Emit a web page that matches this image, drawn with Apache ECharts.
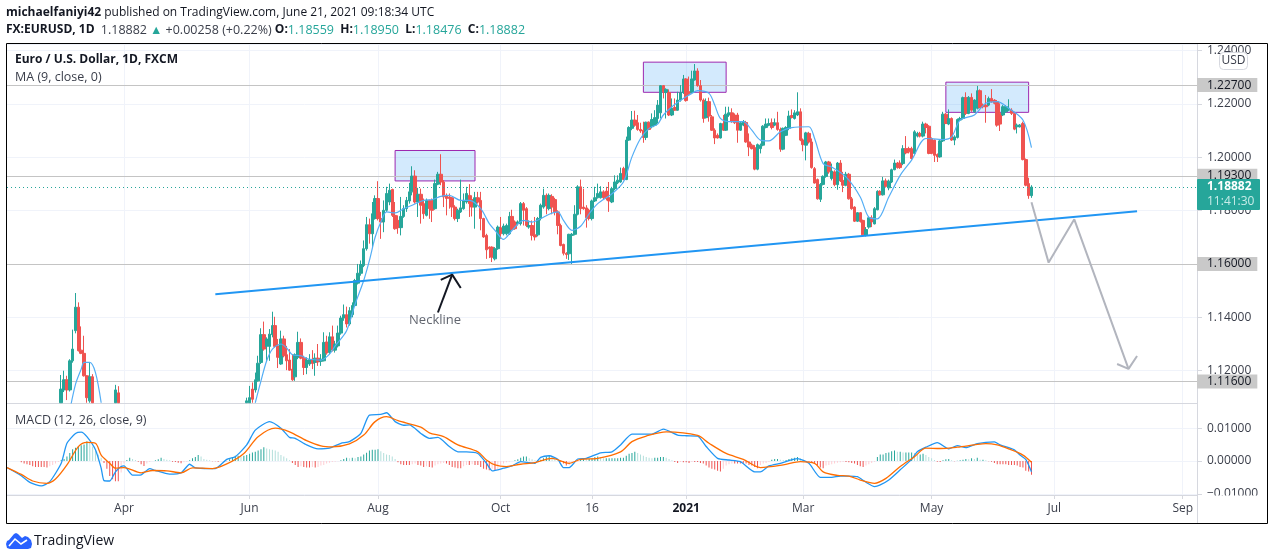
<!DOCTYPE html>
<html>
<head>
<meta charset="utf-8">
<title>EURUSD 1D</title>
<script src="https://cdn.jsdelivr.net/npm/echarts@6/dist/echarts.min.js"></script>
<style>html,body{margin:0;background:#fff}#main{width:1274px;height:560px}</style>
</head>
<body>
<div id="main"></div>
<script>
const FONT = '"Open Sans", sans-serif';
const SLOT_COUNT = 418;
const LAST_SLOT = 359;

const tickSlots = [41, 85, 130, 173, 205, 238, 279, 324, 367, 412];
const tickLabels = ['Apr', 'Jun', 'Aug', 'Oct', '16', '2021', 'Mar', 'May', 'Jul', 'Sep'];

// [open, close, low, high]; the bars in between sit below the visible price range,
// and anything reaching the pane floor is held at it
const marchCandles = [
  [1.1080,1.1131,1.1080,1.1184],[1.1128,1.1166,1.1120,1.1200],[1.1166,1.1128,1.1090,1.1181],[1.1128,1.1237,1.1122,1.1243],
  [1.1237,1.1281,1.1230,1.1354],[1.1350,1.1438,1.1340,1.1491],[1.1438,1.1275,1.1272,1.1456],[1.1277,1.1265,1.1262,1.1366],
  [1.1265,1.1181,1.1178,1.1331],[1.1181,1.1099,1.1080,1.1183],[1.1087,1.1177,1.1080,1.1231],[1.1177,1.1080,1.1080,1.1187]
];
const aprilCandles = [[1.1080,1.1128,1.1080,1.1147],[1.1117,1.1080,1.1080,1.1142]];
const mainCandles = [
  [1.1080,1.1087,1.1080,1.1099],[1.1080,1.1099,1.1080,1.1143],[1.1131,1.1093,1.1080,1.1156],[1.1128,1.1166,1.1118,1.1193],
  [1.1162,1.1228,1.1159,1.1256],[1.1231,1.1335,1.1225,1.1359],[1.1335,1.1281,1.1275,1.1384],[1.1291,1.1319,1.1237,1.1325],
  [1.1291,1.1337,1.1237,1.1356],[1.1335,1.1369,1.1325,1.1421],[1.1369,1.1291,1.1287,1.1402],[1.1293,1.1250,1.1210,1.1319],
  [1.1225,1.1319,1.1222,1.1350],[1.1319,1.1256,1.1250,1.1331],[1.1260,1.1237,1.1202,1.1293],[1.1240,1.1202,1.1200,1.1281],
  [1.1206,1.1166,1.1162,1.1262],[1.1177,1.1260,1.1162,1.1265],[1.1250,1.1306,1.1243,1.1346],[1.1306,1.1247,1.1243,1.1321],
  [1.1247,1.1212,1.1184,1.1256],[1.1212,1.1240,1.1187,1.1250],[1.1225,1.1242,1.1218,1.1262],[1.1243,1.1227,1.1206,1.1277],
  [1.1231,1.1247,1.1181,1.1265],[1.1247,1.1233,1.1218,1.1300],[1.1235,1.1243,1.1218,1.1262],[1.1237,1.1306,1.1235,1.1344],
  [1.1308,1.1266,1.1260,1.1331],[1.1268,1.1327,1.1262,1.1344],[1.1327,1.1277,1.1272,1.1369],[1.1277,1.1300,1.1268,1.1312],
  [1.1293,1.1341,1.1287,1.1369],[1.1341,1.1397,1.1335,1.1406],[1.1397,1.1410,1.1387,1.1448],[1.1410,1.1375,1.1362,1.1440],
  [1.1375,1.1425,1.1369,1.1438],[1.1410,1.1444,1.1400,1.1456],[1.1444,1.1538,1.1440,1.1544],[1.1528,1.1565,1.1523,1.1600],
  [1.1565,1.1598,1.1556,1.1613],[1.1594,1.1657,1.1588,1.1688],[1.1657,1.1747,1.1650,1.1776],[1.1747,1.1713,1.1676,1.1770],
  [1.1713,1.1788,1.1663,1.1832],[1.1770,1.1845,1.1766,1.1857],[1.1845,1.1770,1.1763,1.1910],[1.1770,1.1757,1.1694,1.1795],
  [1.1757,1.1801,1.1719,1.1838],[1.1801,1.1864,1.1795,1.1889],[1.1832,1.1876,1.1820,1.1901],[1.1879,1.1782,1.1776,1.1882],
  [1.1782,1.1732,1.1728,1.1832],[1.1763,1.1736,1.1713,1.1782],[1.1736,1.1778,1.1707,1.1851],[1.1778,1.1807,1.1773,1.1820],
  [1.1807,1.1838,1.1795,1.1851],[1.1836,1.1870,1.1826,1.1904],[1.1870,1.1929,1.1857,1.1966],[1.1929,1.1832,1.1826,1.1951],
  [1.1832,1.1861,1.1776,1.1885],[1.1861,1.1820,1.1751,1.1882],[1.1826,1.1788,1.1769,1.1845],[1.1782,1.1838,1.1778,1.1845],
  [1.1838,1.1807,1.1769,1.1841],[1.1838,1.1801,1.1757,1.1845],[1.1807,1.1901,1.1803,1.1916],[1.1899,1.1936,1.1895,1.1945],
  [1.1936,1.1907,1.1895,1.2011],[1.1907,1.1851,1.1813,1.1914],[1.1857,1.1845,1.1782,1.1864],[1.1851,1.1845,1.1807,1.1864],
  [1.1848,1.1813,1.1776,1.1851],[1.1813,1.1770,1.1763,1.1820],[1.1770,1.1801,1.1757,1.1807],[1.1795,1.1810,1.1791,1.1916],
  [1.1807,1.1838,1.1803,1.1864],[1.1832,1.1864,1.1826,1.1889],[1.1857,1.1826,1.1776,1.1899],[1.1841,1.1813,1.1778,1.1857],
  [1.1813,1.1848,1.1732,1.1870],[1.1848,1.1832,1.1826,1.1870],[1.1838,1.1770,1.1726,1.1870],[1.1770,1.1701,1.1698,1.1773],
  [1.1707,1.1653,1.1619,1.1713],[1.1663,1.1657,1.1622,1.1666],[1.1663,1.1625,1.1607,1.1666],[1.1619,1.1657,1.1613,1.1663],
  [1.1657,1.1738,1.1653,1.1744],[1.1736,1.1713,1.1694,1.1776],[1.1713,1.1742,1.1707,1.1751],[1.1713,1.1744,1.1707,1.1751],
  [1.1713,1.1778,1.1709,1.1795],[1.1778,1.1729,1.1726,1.1803],[1.1757,1.1732,1.1728,1.1763],[1.1751,1.1757,1.1744,1.1763],
  [1.1751,1.1826,1.1744,1.1832],[1.1826,1.1801,1.1744,1.1832],[1.1807,1.1744,1.1738,1.1813],[1.1738,1.1744,1.1732,1.1763],
  [1.1744,1.1707,1.1688,1.1763],[1.1709,1.1701,1.1688,1.1776],[1.1709,1.1770,1.1703,1.1776],[1.1770,1.1820,1.1763,1.1826],
  [1.1813,1.1857,1.1807,1.1882],[1.1857,1.1817,1.1786,1.1864],[1.1807,1.1857,1.1801,1.1864],[1.1853,1.1813,1.1786,1.1861],
  [1.1841,1.1795,1.1782,1.1848],[1.1795,1.1744,1.1711,1.1801],[1.1744,1.1669,1.1666,1.1751],[1.1673,1.1640,1.1632,1.1676],
  [1.1640,1.1635,1.1619,1.1644],[1.1638,1.1711,1.1615,1.1713],[1.1707,1.1711,1.1600,1.1716],[1.1711,1.1786,1.1707,1.1820],
  [1.1786,1.1889,1.1782,1.1895],[1.1889,1.1807,1.1786,1.1916],[1.1813,1.1807,1.1803,1.1882],[1.1810,1.1773,1.1736,1.1820],
  [1.1801,1.1770,1.1763,1.1807],[1.1770,1.1836,1.1763,1.1841],[1.1836,1.1848,1.1832,1.1889],[1.1848,1.1864,1.1845,1.1901],
  [1.1848,1.1870,1.1845,1.1891],[1.1870,1.1848,1.1841,1.1876],[1.1873,1.1845,1.1838,1.1889],[1.1848,1.1836,1.1795,1.1907],
  [1.1832,1.1882,1.1828,1.1889],[1.1882,1.1907,1.1876,1.1932],[1.1904,1.1914,1.1899,1.1932],[1.1907,1.1939,1.1904,1.1961],
  [1.1958,1.1916,1.1914,1.1964],[1.1916,1.2064,1.1914,1.2077],
  [1.2064,1.2111,1.2061,1.2116],[1.2108,1.2139,1.2101,1.2173],[1.2139,1.2120,1.2114,1.2174],[1.2129,1.2104,1.2099,1.2158],
  [1.2104,1.2098,1.2091,1.2129],[1.2101,1.2074,1.2054,1.2133],[1.2074,1.2131,1.2064,1.2133],[1.2131,1.2104,1.2101,1.2134],
  [1.2114,1.2141,1.2108,1.2164],[1.2120,1.2148,1.2116,1.2176],[1.2145,1.2195,1.2126,1.2214],[1.2166,1.2268,1.2145,1.2270],
  [1.2268,1.2245,1.2220,1.2270],[1.2242,1.2254,1.2145,1.2258],[1.2242,1.2158,1.2154,1.2254],[1.2158,1.2183,1.2154,1.2220],
  [1.2186,1.2176,1.2174,1.2220],[1.2176,1.2214,1.2174,1.2245],[1.2214,1.2242,1.2208,1.2270],[1.2242,1.2293,1.2237,1.2308],
  [1.2293,1.2212,1.2208,1.2296],[1.2245,1.2239,1.2233,1.2302],[1.2242,1.2293,1.2239,1.2324],[1.2289,1.2323,1.2287,1.2349],
  [1.2323,1.2268,1.2264,1.2333],[1.2268,1.2214,1.2208,1.2289],[1.2214,1.2145,1.2129,1.2220],[1.2148,1.2208,1.2145,1.2220],
  [1.2208,1.2154,1.2133,1.2223],[1.2151,1.2101,1.2098,1.2158],[1.2101,1.2072,1.2049,1.2108],[1.2082,1.2072,1.2070,1.2089],
  [1.2072,1.2126,1.2070,1.2129],[1.2126,1.2101,1.2098,1.2158],[1.2101,1.2161,1.2098,1.2189],[1.2158,1.2166,1.2151,1.2189],
  [1.2166,1.2133,1.2129,1.2183],[1.2158,1.2129,1.2124,1.2164],[1.2158,1.2101,1.2054,1.2166],[1.2101,1.2129,1.2098,1.2133],
  [1.2120,1.2133,1.2116,1.2139],[1.2130,1.2057,1.2054,1.2136],[1.2057,1.2038,1.2004,1.2089],[1.2045,1.2032,1.2029,1.2051],
  [1.2036,1.1955,1.1951,1.2045],[1.1955,1.2047,1.1951,1.2051],[1.2032,1.2045,1.2014,1.2051],[1.2045,1.2116,1.2041,1.2120],
  [1.2111,1.2124,1.2108,1.2145],[1.2120,1.2126,1.2116,1.2145],[1.2129,1.2111,1.2104,1.2145],[1.2120,1.2129,1.2116,1.2145],
  [1.2129,1.2104,1.2099,1.2170],[1.2104,1.2030,1.2020,1.2111],[1.2030,1.2108,1.2026,1.2111],[1.2082,1.2111,1.2079,1.2116],
  [1.2108,1.2154,1.2101,1.2174],[1.2156,1.2149,1.2145,1.2179],[1.2145,1.2166,1.2141,1.2176],[1.2158,1.2170,1.2154,1.2243],
  [1.2170,1.2064,1.2060,1.2183],[1.2064,1.2047,1.2022,1.2070],[1.2045,1.2091,1.1988,1.2095],[1.2089,1.2057,1.2051,1.2095],
  [1.2057,1.1961,1.1957,1.2070],[1.1957,1.1903,1.1901,1.1963],[1.1916,1.1844,1.1841,1.1920],[1.1842,1.1898,1.1832,1.1903],
  [1.1898,1.1928,1.1894,1.1932],[1.1928,1.1982,1.1923,1.1986],[1.1982,1.1945,1.1938,1.1986],[1.1920,1.1948,1.1913,1.1976],
  [1.1945,1.1897,1.1891,1.1951],[1.1897,1.1978,1.1878,1.1982],[1.1978,1.1911,1.1907,1.1989],[1.1913,1.1895,1.1869,1.1945],
  [1.1895,1.1936,1.1891,1.1945],[1.1936,1.1844,1.1841,1.1941],[1.1844,1.1807,1.1803,1.1851],[1.1813,1.1760,1.1757,1.1816],
  [1.1760,1.1792,1.1757,1.1794],[1.1792,1.1759,1.1755,1.1794],[1.1763,1.1709,1.1707,1.1766],[1.1707,1.1729,1.1703,1.1738],
  [1.1738,1.1773,1.1732,1.1778],[1.1773,1.1757,1.1738,1.1782],[1.1750,1.1807,1.1748,1.1813],[1.1803,1.1872,1.1801,1.1876],
  [1.1872,1.1859,1.1856,1.1876],[1.1859,1.1911,1.1856,1.1926],[1.1911,1.1891,1.1886,1.1920],[1.1885,1.1910,1.1876,1.1916],
  [1.1907,1.1953,1.1903,1.1957],[1.1953,1.1978,1.1951,1.1991],[1.1978,1.1961,1.1957,1.1982],
  [1.1978,1.1961,1.1956,1.1988],[1.1976,1.2032,1.1970,1.2045],[1.2032,1.2016,1.2011,1.2079],[1.2032,1.2020,1.2014,1.2039],
  [1.2032,1.1995,1.1991,1.2039],[1.2014,1.2095,1.2007,1.2101],[1.2079,1.2089,1.2074,1.2095],[1.2089,1.2079,1.2074,1.2095],
  [1.2079,1.2124,1.2074,1.2133],[1.2124,1.2111,1.2089,1.2129],[1.2116,1.2014,1.2011,1.2120],[1.2070,1.2014,1.2011,1.2074],
  [1.2064,1.2007,1.1982,1.2066],[1.2010,1.2001,1.1982,1.2014],[1.2001,1.2061,1.1998,1.2066],[1.2061,1.2161,1.2057,1.2170],
  [1.2161,1.2126,1.2124,1.2166],[1.2124,1.2145,1.2120,1.2179],[1.2145,1.2064,1.2061,1.2149],[1.2064,1.2076,1.2045,1.2082],
  [1.2074,1.2141,1.2070,1.2145],[1.2139,1.2145,1.2136,1.2151],[1.2145,1.2223,1.2141,1.2227],[1.2223,1.2164,1.2158,1.2243],
  [1.2164,1.2224,1.2161,1.2229],[1.2224,1.2176,1.2170,1.2239],[1.2170,1.2214,1.2166,1.2217],[1.2183,1.2249,1.2179,1.2267],
  [1.2249,1.2186,1.2183,1.2254],[1.2195,1.2189,1.2183,1.2201],[1.2195,1.2189,1.2129,1.2233],[1.2195,1.2220,1.2191,1.2227],
  [1.2220,1.2208,1.2204,1.2255],[1.2214,1.2202,1.2198,1.2217],[1.2208,1.2120,1.2114,1.2214],[1.2164,1.2124,1.2098,1.2202],
  [1.2158,1.2189,1.2154,1.2195],[1.2170,1.2189,1.2166,1.2195],[1.2176,1.2183,1.2173,1.2217],[1.2176,1.2164,1.2158,1.2183],
  [1.2164,1.2105,1.2101,1.2170],[1.2114,1.2120,1.2089,1.2126],[1.2114,1.2120,1.2111,1.2124],[1.2126,1.1991,1.1988,1.2133],
  [1.1991,1.1895,1.1891,1.1995],[1.1901,1.1856,1.1844,1.1923],[1.18559,1.18882,1.18476,1.18950]
];

const maSlots = [22,24,26,27,29,31,33,34,
  86,87,89,91,93,96,98,100,103,106,110,113,115,119,122,125,127,129,131,133,136,139,142,146,149,152,155,159,162,166,169,171,174,177,181,184,187,190,193,195,198,201,204,207,212,216,219,222,225,228,230,233,237,240,242,246,248,250,253,258,261,264,267,271,275,281,283,286,289,294,299,302,305,309,313,317,322,328,331,334,339,343,347,351,356,359];
const maValues = [1.1050,1.1149,1.1206,1.1231,1.1231,1.1193,1.1080,null,
  null,1.1080,1.1162,1.1237,1.1281,1.1300,1.1285,1.1260,1.1256,1.1243,1.1240,1.1262,1.1293,1.1350,1.1450,1.1538,1.1613,1.1700,1.1757,1.1795,1.1791,1.1807,1.1820,1.1838,1.1841,1.1853,1.1857,1.1838,1.1838,1.1807,1.1751,1.1726,1.1692,1.1726,1.1763,1.1757,1.1770,1.1786,1.1795,1.1763,1.1726,1.1741,1.1788,1.1826,1.1863,1.1907,1.2001,1.2070,1.2108,1.2124,1.2158,1.2189,1.2220,1.2239,1.2249,1.2239,1.2195,1.2145,1.2133,1.2133,1.2101,1.2064,1.2061,1.2095,1.2111,1.2114,1.2070,1.1976,1.1963,1.1926,1.1851,1.1775,1.1769,1.1851,1.1932,1.1989,1.2070,1.2066,1.2076,1.2139,1.2158,1.2202,1.2208,1.2183,1.2139,1.2036];

const neckSlots = [73, 396];
const neckValues = [1.1486, 1.1797];
const pathSlots = [359, 365, 374, 393];
const pathValues = [1.1831, 1.1605, 1.1767, 1.1207];
const pathHeadSlots = [389, 393, 396];
const pathHeadValues = [1.1225, 1.1207, 1.1255];
const pointerSlots = [151, 156];
const pointerValues = [1.1418, 1.1560];
const pointerHeadSlots = [152, 156, 159];
const pointerHeadValues = [1.1540, 1.1560, 1.1510];

const levelValues = [1.227, 1.193, 1.16, 1.116];
const lastPrice = 1.18882;
const boxSlots = [[136, 164], [223, 252], [329, 358]];
const boxValues = [[1.2025, 1.1911], [1.2356, 1.2243], [1.2281, 1.2168]];

// MACD pane, in 0.0001 units
const histPips = [-4,-8,-10,-12,-16,-18,-18,-18,-18,-20,-16,-12,-8,-3,3,6,14,24,36,40,44,48,50,60,55,44,34,20,10,-6,-24,-46,-56,-62,-62,-35,-8,3,10,6,3,-2,-10,-15,-8,-3,0,2,5,10,6,4,2,-2,-3,-5,-7,-4,-2,2,8,12,18,14,6,4,2,-1,-1,-2,-1,-1,-1,5,12,16,16,14,16,18,22,26,28,32,36,42,38,36,34,32,28,18,14,8,2,-6,-12,-18,-16,-18,-20,-20,-18,-20,-18,-14,-12,-8,-5,-3,-2,-1,2,6,10,8,10,8,12,14,20,25,32,34,34,36,30,24,20,18,14,6,-4,-10,-12,-12,-12,-10,-8,-12,-14,-18,
  -16,-18,-20,-14,-10,-8,-6,-8,-12,-18,-20,-22,-22,-16,-12,-12,-10,-12,-12,-18,-24,-26,-28,-24,-28,-26,-12,-8,-4,-2,0,2,5,10,14,14,8,5,2,2,4,8,14,16,14,10,4,-2,-8,-14,-12,-8,-4,-2,4,8,6,6,8,12,14,12,8,8,8,8,8,8,10,10,16,22,24,28,24,20,16,12,10,8,10,10,12,12,10,6,2,-3,-6,-3,-4,-4,-6,-3,-3,-3,-6,-8,-14,-20,-24,-26,-30,-32,-24,-14,-10,-8,-8,-8,-8,-8,-8,-12,-14,-18,-22,-12,-8,-6,-3,4,6,6,4,3,3,6,8,10,12,8,4,0,-2,-4,-6,-14,-20,-22,-14,-12,-10,-8,-5,-4,
  -3,-3,-4,-6,-8,-12,-16,-18,-14,-10,-6,-2,12,20,20,24,26,30,32,28,28,26,26,26,26,24,20,20,22,18,12,8,3,-2,-3,2,5,6,2,-1,1,2,4,6,5,8,6,10,4,4,2,-1,-2,-6,-10,-10,-10,-10,-12,-12,-12,-14,-18,-20,-30,-32,-42];
const macdSlots = [0,5,8,12,15,19,21,24,26,28,31,33,34,36,38,40,41,44,47,50,52,57,61,64,66,71,73,77,80,84,87,92,96,99,101,105,109,113,117,120,124,127,131,133,136,139,141,145,148,151,155,158,161,165,168,170,174,177,180,183,185,187,190,193,195,197,200,203,208,212,215,219,224,226,230,235,238,242,245,249,253,257,262,264,267,271,277,281,285,289,292,295,298,301,304,306,309,313,317,319,322,326,330,333,336,340,346,348,353,355,357,359];
const macdPips = [-20,-45,-65,-76,-63,-7,54,84,88,74,34,-22,-60,-61,-33,-17,-15,-43,-42,-23,-29,-40,-36,-10,-21,-23,-23,5,13,49,94,120,100,72,69,49,37,39,54,59,84,140,142,147,120,109,110,84,69,72,44,28,28,23,-7,-30,-22,-15,-2,-5,-7,11,16,5,-20,-20,6,8,25,28,49,82,82,82,97,79,77,76,44,8,3,-2,-33,-33,-15,-7,7,-7,-50,-50,-46,-46,-48,-65,-78,-73,-58,-27,5,28,42,56,37,47,41,53,58,49,34,18,5,-33,-51];
const signalSlots = [0,5,9,14,17,21,25,28,31,33,36,38,41,47,51,56,61,65,72,77,83,88,94,99,105,110,114,120,125,129,133,137,145,148,153,158,165,168,171,175,180,185,191,197,201,207,215,219,224,231,242,246,252,258,264,272,278,283,286,291,295,299,304,308,313,318,322,327,333,339,343,347,351,356,359];
const signalPips = [-20,-41,-61,-68,-55,-12,44,57,54,18,-7,-22,-20,-36,-29,-30,-36,-21,-23,-9,23,74,100,89,62,46,43,52,79,120,135,123,103,86,74,49,28,3,-12,-17,-10,-5,8,-7,5,8,28,59,76,89,78,54,23,5,-20,-12,-2,-7,-33,-44,-46,-58,-68,-53,-17,13,39,38,42,49,53,49,37,18,-4];

const categories = Array.from({ length: SLOT_COUNT }, () => '');
tickSlots.forEach((s, i) => { categories[s] = tickLabels[i]; });

const candleData = Array.from({ length: SLOT_COUNT }, () => ['-', '-', '-', '-']);
function placeCandles(rows, firstSlot) {
    rows.forEach((r, i) => { candleData[firstSlot + i] = r; });
}
placeCandles(marchCandles, 19);
placeCandles(aprilCandles, 38);
placeCandles(mainCandles, LAST_SLOT - mainCandles.length + 1);

const pairs = (xs, ys) => xs.map((x, i) => [x, ys[i] == null ? '-' : ys[i]]);
const pips = (xs) => xs.map(v => v / 10000);

// histogram shade follows whether the bar grew or shrank against the previous one
const histStart = LAST_SLOT - histPips.length + 1;
const histData = histPips.map((v, i) => {
    const prev = i ? histPips[i - 1] : 0;
    const color = v >= 0 ? (v >= prev ? '#26a69a' : '#b2dfdb') : (v <= prev ? '#ef5350' : '#ffcdd2');
    return { value: [histStart + i, v / 10000], itemStyle: { color } };
});

const GRID = '#f0f3fa';
const AXIS = '#d6d8df';
const TXT = '#3a3e4a';
const keepTick = (i, v) => v !== '';

function plainLine(name, xs, ys, color, width, extra) {
    return Object.assign({
        name, type: 'line', data: pairs(xs, ys), showSymbol: false, symbol: 'none', silent: true,
        lineStyle: { color, width }, animation: false, z: 4
    }, extra || {});
}

const option = {
    animation: false,
    backgroundColor: '#fff',
    textStyle: { fontFamily: FONT },
    grid: [
        { left: 7, top: 44, width: 1190, height: 359 },
        { left: 7, top: 403, width: 1190, height: 92 }
    ],
    xAxis: [0, 1].map(g => ({
        type: 'category', gridIndex: g, data: categories, boundaryGap: false,
        axisLine: { onZero: false, lineStyle: { color: AXIS, width: 1 } },
        axisTick: { show: g === 1, interval: keepTick, length: 4, lineStyle: { color: AXIS } },
        axisLabel: {
            show: g === 1, interval: keepTick, margin: 8, color: TXT, fontSize: 12, fontFamily: FONT, hideOverlap: false,
            formatter: v => v === '2021' ? '{y|2021}' : v,
            rich: { y: { fontWeight: 'bold', color: '#131722', fontSize: 12, fontFamily: FONT } }
        },
        splitLine: { show: true, interval: keepTick, lineStyle: { color: GRID, width: 1 } }
    })),
    yAxis: [
        {
            type: 'value', gridIndex: 0, position: 'right', min: 1.1079, max: 1.2424, splitNumber: 7, scale: true,
            axisLine: { show: true, lineStyle: { color: AXIS } },
            axisTick: { show: true, length: 5, lineStyle: { color: AXIS } },
            axisLabel: { color: TXT, fontSize: 12, fontFamily: FONT, margin: 10, padding: [2, 0, 0, 0], showMinLabel: false, showMaxLabel: false, formatter: v => v.toFixed(5) },
            splitLine: { lineStyle: { color: GRID, width: 1 } }
        },
        {
            type: 'value', gridIndex: 1, position: 'right', min: -0.01037, max: 0.01768, splitNumber: 3, scale: true,
            axisLine: { show: true, lineStyle: { color: AXIS } },
            axisTick: { show: true, length: 5, lineStyle: { color: AXIS } },
            axisLabel: { color: TXT, fontSize: 12, fontFamily: FONT, margin: 10, padding: [2, 0, 0, 0], showMinLabel: false, showMaxLabel: false, formatter: v => v.toFixed(5).replace('-', '\u2212') },
            splitLine: { lineStyle: { color: GRID, width: 1 } }
        }
    ],
    series: [
        {
            name: 'levels', type: 'line', data: [], silent: true, z: 1,
            markLine: {
                silent: true, symbol: 'none', animation: false, z: 1, precision: 5,
                lineStyle: { color: '#c4c4c4', width: 1.2, type: 'solid' },
                label: {
                    position: 'end', distance: 0, color: '#131722', fontSize: 12, fontFamily: FONT,
                    backgroundColor: '#c9c9c9', padding: [1, 6, 1, 10], formatter: p => p.value.toFixed(5)
                },
                data: levelValues.map(v => ({ yAxis: v }))
            },
            markArea: {
                silent: true,
                itemStyle: { color: 'rgba(33,150,243,0.2)', borderColor: '#9c27b0', borderWidth: 1 },
                data: boxSlots.map((s, i) => [
                    { coord: [s[0], boxValues[i][0]] },
                    { coord: [s[1], boxValues[i][1]] }
                ])
            }
        },
        {
            name: 'last', type: 'line', data: [], silent: true, z: 2,
            markLine: {
                silent: true, symbol: 'none', animation: false, precision: 5,
                lineStyle: { color: '#26a69a', width: 1, type: [1, 3] },
                label: { show: false },
                data: [{ yAxis: lastPrice }]
            }
        },
        {
            name: 'EURUSD', type: 'candlestick', data: candleData, barWidth: 3, z: 3, silent: true,
            itemStyle: { color: '#26a69a', color0: '#ef5350', borderColor: '#26a69a', borderColor0: '#ef5350', borderWidth: 1 }
        },
        plainLine('MA', maSlots, maValues, '#54aef5', 1.2, { smooth: 0.3 }),
        plainLine('Neckline', neckSlots, neckValues, '#2196f3', 2),
        plainLine('Path', pathSlots, pathValues, '#b2b5be', 2),
        plainLine('Path head', pathHeadSlots, pathHeadValues, '#b2b5be', 2),
        plainLine('Pointer', pointerSlots, pointerValues, '#131722', 2),
        plainLine('Pointer head', pointerHeadSlots, pointerHeadValues, '#131722', 2),
        {
            name: 'Neckline label', type: 'scatter', data: [[150, 1.1387]], symbolSize: 0, silent: true, z: 5,
            label: { show: true, position: 'inside', formatter: 'Neckline', color: '#3a3e4a', fontSize: 13, fontFamily: FONT }
        },
        { name: 'Histogram', type: 'bar', xAxisIndex: 1, yAxisIndex: 1, data: histData, barWidth: 1, silent: true, z: 2 },
        plainLine('MACD', macdSlots, pips(macdPips), '#2196f3', 1.3, { xAxisIndex: 1, yAxisIndex: 1, smooth: 0.2 }),
        plainLine('Signal', signalSlots, pips(signalPips), '#ff6d00', 1.3, { xAxisIndex: 1, yAxisIndex: 1, smooth: 0.3 })
    ],
    graphic: [
        { type: 'rect', z: 95, silent: true, shape: { x: 1198, y: 495.5, width: 68, height: 27 }, style: { fill: '#fff' } },
        { type: 'line', z: 96, silent: true, shape: { x1: 1197.5, y1: 495, x2: 1197.5, y2: 523 }, style: { stroke: AXIS, lineWidth: 1 } },
        { type: 'rect', z: 97, silent: true, shape: { x: 6.5, y: 43.5, width: 1261, height: 480 }, style: { fill: 'none', stroke: '#000', lineWidth: 1 } },
        { type: 'rect', z: 98, silent: true, shape: { x: 1197, y: 179, width: 63, height: 31, r: 1 }, style: { fill: '#26a69a' } },
        { type: 'text', z: 99, silent: true, style: { x: 1207, y: 187, text: '1.18882', fill: '#fff', font: 'bold 12px ' + FONT, textVerticalAlign: 'middle' } },
        { type: 'text', z: 99, silent: true, style: { x: 1207, y: 202, text: '11:41:30', fill: '#c8ece8', font: '12px ' + FONT, textVerticalAlign: 'middle' } },
        { type: 'rect', z: 98, silent: true, shape: { x: 1219.5, y: 52.5, width: 28, height: 17, r: 4 }, style: { fill: '#fff', stroke: '#d6d8df', lineWidth: 1 } },
        { type: 'text', z: 99, silent: true, style: { x: 1233.5, y: 61, text: 'USD', fill: '#3a3e4a', font: '12px ' + FONT, textAlign: 'center', textVerticalAlign: 'middle' } },
        {
            type: 'text', z: 99, silent: true,
            style: {
                x: 6, y: 13, textVerticalAlign: 'middle', fill: '#131722', font: '12px ' + FONT,
                rich: { b: { fontWeight: 'bold', fontSize: 12, fontFamily: FONT, fill: '#131722' }, n: { fontSize: 12, fontFamily: FONT, fill: '#131722' } },
                text: '{b|michaelfaniyi42} {n|published on TradingView.com, June 21, 2021 09:18:34 UTC}'
            }
        },
        {
            type: 'text', z: 99, silent: true,
            style: {
                x: 6, y: 30, textVerticalAlign: 'middle', fill: '#131722', font: '12px ' + FONT,
                rich: {
                    b: { fontWeight: 'bold', fontSize: 12, fontFamily: FONT, fill: '#131722' },
                    n: { fontSize: 12.5, fontFamily: FONT, fill: '#3a3e4a' },
                    t: { fontSize: 12.5, fontFamily: FONT, fill: '#26a69a' }
                },
                text: '{b|FX:EURUSD, 1D}  {n|1.18882} {t|\u25B2} {n|+0.00258 (+0.22%)} {b|O:}{t|1.18559}  {b|H:}{t|1.18950}  {b|L:}{t|1.18476}  {b|C:}{t|1.18882}'
            }
        },
        { type: 'text', z: 99, silent: true, style: { x: 15, y: 60, text: 'Euro / U.S. Dollar, 1D, FXCM', fill: '#131722', font: 'bold 12px ' + FONT, textVerticalAlign: 'middle' } },
        { type: 'text', z: 99, silent: true, style: { x: 15, y: 77, text: 'MA (9, close, 0)', fill: '#3a3e4a', font: '12.5px ' + FONT, textVerticalAlign: 'middle' } },
        { type: 'text', z: 99, silent: true, style: { x: 15, y: 420, text: 'MACD (12, 26, close, 9)', fill: '#3a3e4a', font: '12.5px ' + FONT, textVerticalAlign: 'middle' } },
        { type: 'polygon', z: 99, silent: true, shape: { points: [[6, 544], [7, 541], [9, 540], [14, 534], [16, 533], [18, 534], [22, 538], [25, 536], [28, 537], [31, 540], [32, 544], [31, 548], [28, 549], [10, 549], [7, 548]] }, style: { fill: '#2962ff' } },
        { type: 'polyline', z: 100, silent: true, shape: { points: [[9, 546], [15, 539], [21, 544], [27, 540]] }, style: { fill: 'none', stroke: '#fff', lineWidth: 1.6 } },
        { type: 'text', z: 99, silent: true, style: { x: 34, y: 541, text: 'TradingView', fill: '#131722', font: '14px ' + FONT, textVerticalAlign: 'middle' } }
    ]
};

const myChart = echarts.init(document.getElementById('main'), null, { renderer: 'canvas' });
myChart.setOption(option);
</script>
</body>
</html>
